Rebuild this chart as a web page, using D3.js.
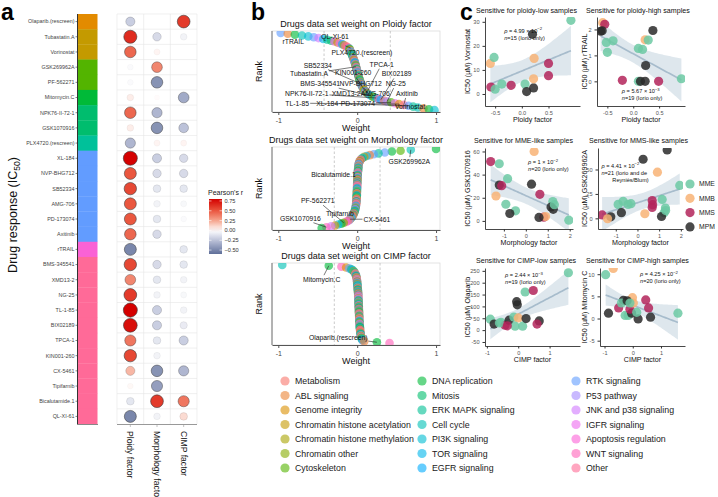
<!DOCTYPE html>
<html><head><meta charset="utf-8">
<script src="https://cdn.jsdelivr.net/npm/d3@7"></script>
<style>body{margin:0;background:#fff}svg{display:block}text{font-family:'Liberation Sans',Arial,Helvetica,sans-serif}</style>
</head><body><svg id="chart" width="718" height="497"></svg>
<script>
// ---------------- DATA ----------------
const pathways = ["Metabolism","ABL signaling","Genome integrity","Chromatin histone acetylation","Chromatin histone methylation","Chromatin other","Cytoskeleton","DNA replication","Mitosis","ERK MAPK signaling","Cell cycle","PI3K signaling","TOR signaling","EGFR signaling","RTK signaling","P53 pathway","JNK and p38 signaling","IGFR signaling","Apoptosis regulation","WNT signaling","Other"];

const drugs = ["Olaparib.(rescreen)","Tubastatin.A","Vorinostat","GSK269962A","PF-562271","Mitomycin.C","NPK76-II-72-1","GSK1070916","PLX4720.(rescreen)","XL-184","NVP-BHG712","SB52334","AMG-706","PD-173074","Axitinib","rTRAIL","BMS-345541","XMD13-2","NG-25","TL-1-85","BIX02189","TPCA-1","KIN001-260","CX-5461","Tipifarnib","Bicalutamide.1","QL-XI-61"];
const drugPathway = ["Genome integrity","Chromatin histone acetylation","Chromatin histone acetylation","Cytoskeleton","Cytoskeleton","DNA replication","Mitosis","Mitosis","ERK MAPK signaling","RTK signaling","RTK signaling","RTK signaling","RTK signaling","RTK signaling","RTK signaling","Apoptosis regulation","Other","Other","Other","Other","Other","Other","Other","Other","Other","Other","Other"];
const factors = ["Ploidy factor","Morphology factor","CIMP factor"];
const ploidyR = [-0.2,0.65,0.45,-0.02,-0.02,0.05,0.45,0.05,-0.3,0.8,0.5,0.55,0.5,0.5,0.45,-0.5,0.55,0.35,0.6,0.8,0.75,0.4,0.55,0.2,0.02,-0.1,-0.5];
const morphR  = [0,-0.15,0.03,0.35,-0.45,0.01,-0.3,-0.45,0.03,-0.2,-0.15,-0.1,-0.05,-0.1,-0.15,0,-0.15,-0.1,-0.05,-0.2,-0.2,-0.1,-0.05,-0.45,-0.4,0.6,-0.05];
const cimpR   = [0.6,-0.05,0,0,0,-0.35,0,-0.25,0.03,-0.15,-0.15,-0.1,-0.03,-0.02,0,-0.1,-0.1,-0.05,-0.03,-0.05,-0.08,-0.2,0,-0.3,0,0.4,0.1];
const legendTicks = [0.75,0.5,0.25,0,-0.25,-0.5];

// ranked weights (rank 1 at top), pathway index per point (base-36 digits)
const ploidyWeights = [-0.97,-0.88,-0.79,-0.7,-0.62,-0.55,-0.49,-0.43,
 -0.38,-0.33,-0.29,-0.25,-0.22,-0.19,-0.17,-0.15,-0.13,-0.115,
 -0.1,-0.095,-0.09,-0.085,-0.08,-0.075,-0.07,-0.066,-0.062,-0.058,-0.054,-0.05,
 -0.046,-0.042,-0.038,-0.034,-0.03,-0.027,-0.024,-0.021,-0.018,-0.015,-0.012,-0.009,
 -0.006,-0.003,0,0.003,0.006,0.009,0.012,0.015,0.018,0.021,0.024,0.027,
 0.03,0.034,0.038,0.042,0.046,0.05,0.055,0.06,0.065,0.07,0.076,0.082,
 0.09,0.1,0.11,0.12,0.135,0.15,0.17,0.19,0.21,0.24,0.27,0.3,
 0.34,0.38,0.43,0.48,0.53,0.59,0.65,0.71,0.77,0.84,0.91,0.98];
const ploidyCats = "e17abegc98i3hd4k0ja62fbk87e93ci51gadk480jb6f0e9h3c7i1a58e2d1fbk9g43ci71ae85bjd0f6h2ke9a17b";
const morphWeights = [1.0,0.68,0.55,0.44,0.35,0.27,0.21,0.16,
 0.12,0.09,0.07,0.055,0.045,0.037,0.031,0.026,0.022,0.019,
 0.017,0.016,0.015,0.014,0.013,0.012,0.011,0.01,0.009,0.008,0.007,0.006,
 0.005,0.005,0.004,0.004,0.003,0.003,0.002,0.002,0.001,0.001,0,0,
 0,-0.001,-0.001,-0.002,-0.002,-0.003,-0.003,-0.004,-0.004,-0.005,-0.005,-0.006,
 -0.006,-0.007,-0.007,-0.008,-0.009,-0.01,-0.011,-0.012,-0.013,-0.014,-0.016,-0.018,
 -0.02,-0.022,-0.025,-0.028,-0.032,-0.036,-0.04,-0.045,-0.05,-0.056,-0.063,-0.07,
 -0.08,-0.09,-0.1,-0.12,-0.14,-0.17,-0.2,-0.24,-0.28,-0.33,-0.39,-0.45];
const morphCats = "7a67e9e1c3b8k05h2df4i9a1c6e0jb82gd5k3ai7f1h0c9e4b6j2d8a5k1g7f3i0ce29hb6d4j81kae3f0i57c2gj7";
const cimpWeights = [-0.95,-0.36,-0.2,-0.14,-0.1,-0.075,-0.058,-0.046,
 -0.037,-0.03,-0.024,-0.019,-0.015,-0.012,-0.009,-0.007,-0.005,-0.003,
 -0.002,-0.001,0,0.001,0.002,0.003,0.004,0.005,0.006,0.007,0.008,0.009,
 0.01,0.011,0.012,0.013,0.013,0.014,0.014,0.015,0.015,0.016,0.016,0.017,
 0.017,0.018,0.018,0.019,0.019,0.02,0.02,0.021,0.021,0.022,0.022,0.023,
 0.023,0.024,0.024,0.025,0.025,0.026,0.026,0.027,0.027,0.028,0.028,0.029,
 0.029,0.03,0.031,0.032,0.033,0.034,0.035,0.036,0.037,0.038,0.039,0.04,
 0.042,0.044,0.046,0.048,0.05,0.053,0.057,0.062,0.07,0.09,0.25,0.41];
const cimpCats = "a7j2e9c4b5h1d8k3f0g6ia2c9e4j7b1d5k8h0f3gc6e2a9i4b7j1d58k0f6c3h2ga94ie1b7d5j0k3c8f2h6a9e17j";

// labels: [text, label weight, label rank, target rank]
const ploidyLabels = [["QL-XI-61",-0.28,5.6,11],["rTRAIL",-0.81,11.2,2],["PLX4720.(rescreen)",0.06,23.6,16],
 ["SB52334",-0.5,38.2,60],["TPCA-1",0.31,37.1,70],["Tubastatin.A",-0.61,48.3,40],["KIN001-260",-0.05,47.2,68],
 ["BIX02189",0.5,48.3,78],["BMS-345541",-0.47,59.5,74],["NVP-BHG712",0.045,59.5,72],["NG-25",0.49,59.5,80],
 ["NPK76-II-72-1",-0.64,70.8,76],["XMD13-2",-0.14,70.8,73],["AMG-706",0.23,70.8,79],["Axitinib",0.63,70.8,84],
 ["TL-1-85",-0.76,82,83],["XL-184",-0.38,82,85],["PD-173074",0.01,82,81],["Vorinostat",0.67,85.4,86]];
const morphLabels = [["GSK269962A",0.66,15.3,2],["Bicalutamide.1",-0.3,29.6,30],["PF-562271",-0.5,59.2,84],
 ["Tipifarnib",-0.22,73.4,82],["GSK1070916",-0.72,78.9,89],["CX-5461",0.25,80,80]];
const cimpLabels = [["Mitomycin.C",-0.45,17.8,2],["Olaparib.(rescreen)",-0.24,83.2,89]];

// scatter data: [factor value, IC50, subtype]
const vorinostatPts = [[-0.59,12.7,"MMB"],[-0.52,15.2,"MME"],[-0.58,2.9,"MMS"],[-0.5,2,"MME"],[-0.375,4.1,"MME"],[-0.2,3.6,"MMS"],[0.06,4.1,"MME"],[0.09,1,"MPM"],[0.22,2.5,"MPM"],[0.22,6.3,"MMB"],[0.23,14.8,"MMB"],[0.2,24.8,"MPM"],[0.5,12.7,"MMS"],[0.5,7.6,"MMS"],[0.92,30.6,"MME"]];
const rtrailPts = [[-0.59,2.26,"MMB"],[-0.55,2.2,"MMS"],[-0.63,1.93,"MPM"],[-0.6,1.95,"MPM"],[-0.52,1.5,"MME"],[-0.39,1.56,"MME"],[-0.5,1.12,"MME"],[-0.21,0.04,"MMS"],[0.1,1.27,"MME"],[0.18,1.23,"MME"],[0.23,1.6,"MMB"],[0.29,1.59,"MME"],[0.38,1.96,"MPM"],[0.24,0.61,"MPM"],[0.1,0,"MME"],[0.14,0,"MPM"],[0.23,0,"MPM"],[0.49,0,"MMS"],[0.93,0.1,"MME"]];
const gsk107Pts = [[-1.6,51.3,"MMS"],[-1.21,49.4,"MME"],[-0.83,36.5,"MME"],[-1.21,31,"MPM"],[-1.1,30.4,"MMS"],[-1.36,21.5,"MMB"],[-0.91,14.4,"MME"],[-0.47,8.7,"MME"],[-0.73,6.4,"MPM"],[0.26,31.7,"MPM"],[0.64,23,"MMS"],[0.38,60,"MMB"],[0.82,3.2,"MMS"],[0.9,3.8,"MMB"],[1.23,16.7,"MME"],[1.15,12,"MPM"],[1.25,10,"MPM"],[1.96,0.6,"MME"],[1.3,14,"MME"],[0.6,3,"MPM"]];
const gsk269Pts = [[1.37,70,"MPM"],[0.26,60.5,"MPM"],[0.92,47.3,"MMB"],[1.95,33.7,"MME"],[0.68,18.2,"MMS"],[0.68,11.2,"MMS"],[1.14,19.4,"MME"],[1.29,10.5,"MME"],[1.23,5.8,"MME"],[1.11,1.9,"MPM"],[0.34,4.7,"MMB"],[-0.89,14.3,"MME"],[-0.66,17.4,"MME"],[-0.43,14.3,"MME"],[-0.74,5.8,"MPM"],[-1.63,3.5,"MMS"],[-1.23,1.6,"MPM"],[-1.38,-0.4,"MMB"],[-0.3,15,"MME"],[0.7,14,"MMS"],[1.3,8,"MME"]];
const olaparibPts = [[-0.89,46,"MME"],[-0.77,25.6,"MPM"],[-0.55,33,"MME"],[-0.42,20.5,"MMS"],[-0.29,42,"MPM"],[-0.14,55,"MME"],[0,51.4,"MMB"],[-0.1,16.6,"MME"],[0.14,16.6,"MME"],[0.25,48.7,"MPM"],[0.67,38.6,"MPM"],[0.6,25.5,"MMS"],[-0.03,106.7,"MPM"],[0.22,160.8,"MME"],[0.48,167,"MMS"],[-0.05,120,"MPM"],[1.6,242,"MME"],[-0.6,30,"MME"],[-0.35,18,"MMS"]];
const mitomycinPts = [[-0.96,9.9,"MME"],[-0.69,11.3,"MMB"],[0.46,4.2,"MMS"],[-0.33,4.1,"MPM"],[-0.01,4.7,"MMB"],[-0.86,1.2,"MPM"],[-0.5,2.4,"MMS"],[-0.27,0.7,"MME"],[-0.16,0.7,"MME"],[-0.04,1.2,"MPM"],[-0.1,2.1,"MMS"],[-0.4,3.5,"MME"],[0.02,3.5,"MMB"],[0.19,-0.1,"MPM"],[0.14,1.4,"MME"],[0.56,2.4,"MMS"],[0.63,0.3,"MPM"],[1.6,1.2,"MME"],[-0.2,4,"MPM"],[-0.1,3.5,"MME"]];
const subtypes = ["MME","MMB","MMS","MPM"];

// ---------------- STYLE HELPERS ----------------
function hclHex(h, c, l) { // R-style polarLUV -> sRGB
  const WX=95.047, WY=100, WZ=108.883, hr=h*Math.PI/180;
  const U=c*Math.cos(hr), V=c*Math.sin(hr);
  const Y = WY*(l>7.999592 ? Math.pow((l+16)/116,3) : l/903.3);
  const t=WX+WY+WZ, x=WX/t, y=WY/t;
  const uN=2*x/(6*y-x+1.5), vN=4.5*y/(6*y-x+1.5);
  const u=U/(13*l)+uN, v=V/(13*l)+vN;
  const X=9*Y*u/(4*v), Z=-X/3-5*Y+3*Y/v;
  const lin=[(3.240479*X-1.53715*Y-0.498535*Z)/WY,(-0.969256*X+1.875992*Y+0.041556*Z)/WY,(0.055648*X-0.204043*Y+1.057311*Z)/WY];
  const g=lin.map(q=>{q = q<=0.0031308 ? 12.92*q : 1.055*Math.pow(q,1/2.4)-0.055; return Math.round(Math.max(0,Math.min(1,q))*255);});
  return d3.rgb(g[0],g[1],g[2]).formatHex();
}
const pathColor = {};
pathways.forEach((p,i)=>{ pathColor[p] = hclHex(15+360*i/pathways.length,100,65); });
const barColor = {"Genome integrity":"#E38B00","Chromatin histone acetylation":"#C49A00","Cytoskeleton":"#53B400","DNA replication":"#00BA38","Mitosis":"#00BD6E","ERK MAPK signaling":"#00C19A","RTK signaling":"#629CFF","Apoptosis regulation":"#FA62D5","Other":"#FF6A98"};
const subColor = {MME:"#6cc9a3",MMB:"#f8b375",MMS:"#b3245a",MPM:"#2a2a2a"};

const svg = d3.select("#chart");
function T(g,x,y,s,size,o={}) {
  const t=g.append("text").attr("x",x).attr("y",y).attr("font-size",size).attr("fill",o.fill||"#1a1a1a").text(s);
  if(o.anchor) t.attr("text-anchor",o.anchor);
  if(o.weight) t.attr("font-weight",o.weight);
  if(o.rot!=null) t.attr("transform",`rotate(${o.rot},${x},${y})`);
  return t;
}

// panel letters
T(svg,1,20,"a",23,{weight:"bold",fill:"#000"});
T(svg,251,20,"b",23,{weight:"bold",fill:"#000"});
T(svg,460,20,"c",23,{weight:"bold",fill:"#000"});

// ---------------- PANEL A ----------------
(function(){
  const g=svg.append("g");
  const top=14, bot=424;
  const ys=d3.scaleBand().domain(drugs).range([top,bot]);
  const xs=d3.scaleBand().domain(factors).range([117,197]);
  const col=d3.scaleLinear().domain([-0.6,-0.25,0,0.25,0.5,0.8]).range(["#5f6f99","#bcc2d9","#ffffff","#f6a58f","#ea573f","#d40000"]).clamp(true);
  const rad=v=>2.1+5.5*Math.sqrt(Math.abs(v));
  drugs.forEach((d)=>{ g.append("line").attr("x1",117).attr("x2",197).attr("y1",ys(d)).attr("y2",ys(d)).attr("stroke","#e6e6e6").attr("stroke-width",0.6); });
  [117,xs(factors[1]),xs(factors[2]),197].forEach(x=>g.append("line").attr("x1",x).attr("x2",x).attr("y1",top).attr("y2",bot).attr("stroke","#e6e6e6").attr("stroke-width",0.6));
  drugs.forEach((d,i)=>{ g.append("rect").attr("x",78).attr("y",ys(d)).attr("width",19.5).attr("height",ys.bandwidth()+0.3).attr("fill",barColor[drugPathway[i]]); });
  g.append("line").attr("x1",77.5).attr("x2",77.5).attr("y1",top).attr("y2",bot).attr("stroke","#333").attr("stroke-width",1);
  g.append("line").attr("x1",77).attr("x2",98).attr("y1",bot+0.5).attr("y2",bot+0.5).attr("stroke","#888").attr("stroke-width",1);
  g.append("line").attr("x1",117).attr("x2",197).attr("y1",bot+0.5).attr("y2",bot+0.5).attr("stroke","#999").attr("stroke-width",1);
  drugs.forEach((d)=>{
    const yc=ys(d)+ys.bandwidth()/2;
    g.append("line").attr("x1",75.5).attr("x2",77.5).attr("y1",yc).attr("y2",yc).attr("stroke","#333").attr("stroke-width",0.6);
    T(g,74.5,yc+1.9,d,5.4,{anchor:"end",fill:"#444"});
  });
  const series=[ploidyR,morphR,cimpR];
  series.forEach((arr,j)=>{
    const xc=xs(factors[j])+xs.bandwidth()/2;
    g.append("line").attr("x1",xc).attr("x2",xc).attr("y1",bot+0.5).attr("y2",bot+3).attr("stroke","#999").attr("stroke-width",0.6);
    arr.forEach((v,i)=>{
      g.append("circle").attr("cx",xc).attr("cy",ys(drugs[i])+ys.bandwidth()/2).attr("r",rad(v))
        .attr("fill",col(v)).attr("stroke","#3a3a3a").attr("stroke-width",0.6).attr("stroke-opacity",Math.min(1,Math.abs(v)*1.8));
    });
    T(g,xc-3,431,factors[j],8.6,{rot:90,fill:"#1a1a1a"});
  });
  const yt=g.append("text").attr("transform","translate(17,215) rotate(-90)").attr("text-anchor","middle").attr("font-size",12.5).attr("fill","#111");
  yt.append("tspan").text("Drug response (IC");
  yt.append("tspan").attr("font-size",8.5).attr("dy",3).text("50");
  yt.append("tspan").attr("dy",-3).text(")");
  // legend
  T(g,208,195,"Pearson's r",7,{fill:"#222"});
  const lg=svg.append("defs").append("linearGradient").attr("id","rg").attr("x1",0).attr("x2",0).attr("y1",0).attr("y2",1);
  d3.range(0,11).forEach(i=>{const v=0.8-1.4*i/10; lg.append("stop").attr("offset",i/10).attr("stop-color",col(v));});
  const ly=d3.scaleLinear().domain([-0.6,0.8]).range([254,199]);
  g.append("rect").attr("x",209).attr("y",199).attr("width",13).attr("height",55).attr("fill","url(#rg)");
  legendTicks.forEach(v=>{
    g.append("line").attr("x1",209).attr("x2",211.5).attr("y1",ly(v)).attr("y2",ly(v)).attr("stroke","#fff").attr("stroke-width",0.6);
    g.append("line").attr("x1",219.5).attr("x2",222).attr("y1",ly(v)).attr("y2",ly(v)).attr("stroke","#fff").attr("stroke-width",0.6);
    T(g,224.5,ly(v)+2,d3.format(".2f")(v),5.6,{fill:"#333"});
  });
})();

// ---------------- PANEL B ----------------
const bx=d3.scaleLinear().domain([-1.08,1.05]).range([272,440]);
const rankPlots=[
  {title:"Drugs data set weight on Ploidy factor",top:31,bottom:112,w:ploidyWeights,c:ploidyCats,thr:0.42,labels:ploidyLabels},
  {title:"Drugs data set weight on Morphology factor",top:147,bottom:230,w:morphWeights,c:morphCats,thr:0.29,labels:morphLabels},
  {title:"Drugs data set weight on CIMP factor",top:263,bottom:345,w:cimpWeights,c:cimpCats,thr:0.29,labels:cimpLabels}
];
rankPlots.forEach(p=>{
  const g=svg.append("g");
  const N=p.w.length;
  const y=d3.scaleLinear().domain([0,N+1]).range([p.top+1,p.bottom-1]);
  const cid="clip"+p.top;
  svg.append("defs").append("clipPath").attr("id",cid).append("rect").attr("x",272).attr("y",p.top).attr("width",168).attr("height",p.bottom-p.top);
  g.append("rect").attr("x",272).attr("y",p.top).attr("width",168).attr("height",p.bottom-p.top).attr("fill","none").attr("stroke","#dcdcdc").attr("stroke-width",0.8);
  [-p.thr,p.thr].forEach(t=>g.append("line").attr("x1",bx(t)).attr("x2",bx(t)).attr("y1",p.top).attr("y2",p.bottom).attr("stroke","#bdbdbd").attr("stroke-width",0.8).attr("stroke-dasharray","2.5,2"));
  const pg=g.append("g").attr("clip-path",`url(#${cid})`);
  p.w.forEach((w,i)=>{
    const ci=parseInt(p.c[i],36);
    pg.append("circle").attr("cx",bx(w)).attr("cy",y(i+1)).attr("r",4.3).attr("fill",pathColor[pathways[ci]]).attr("fill-opacity",0.62);
  });
  p.labels.forEach(L=>{
    const lx=bx(L[1]), lyy=y(L[2]);
    const t=T(g,lx,lyy+2.4,L[0],6.8,{anchor:"middle",fill:"#111"});
    const wdt=t.node().getComputedTextLength()/2+1, hgt=4.5;
    const tx=bx(p.w[L[3]-1]), ty=y(L[3]);
    const dx=tx-lx, dy=ty-lyy;
    let s=Math.min(dx!==0?wdt/Math.abs(dx):Infinity, dy!==0?hgt/Math.abs(dy):Infinity);
    if(s<1){
      const sx=lx+dx*s, sy=lyy+dy*s;
      if(Math.hypot(tx-sx,ty-sy)>5) g.insert("line","text").attr("x1",sx).attr("y1",sy).attr("x2",tx).attr("y2",ty).attr("stroke","#222").attr("stroke-width",0.6);
    }
  });
  const ax=g.append("g").attr("transform",`translate(0,${p.bottom})`).call(d3.axisBottom(bx).tickValues([-1,0,1]).tickFormat(v=>String(v)).tickSize(3).tickSizeOuter(0));
  ax.select(".domain").attr("stroke","#555");
  ax.selectAll(".tick line").attr("stroke","#555");
  ax.selectAll(".tick text").attr("font-size",7).attr("fill","#444").attr("font-family","'Liberation Sans',Arial,sans-serif");
  g.append("line").attr("x1",272).attr("x2",272).attr("y1",p.top).attr("y2",p.bottom).attr("stroke","#555").attr("stroke-width",0.8);
  T(g,356,p.top-4,p.title,9,{anchor:"middle",fill:"#111"});
  T(g,356,p.bottom+19,"Weight",9,{anchor:"middle",fill:"#111"});
  T(g,262,(p.top+p.bottom)/2,"Rank",9,{anchor:"middle",rot:-90,fill:"#111"});
});
(function(){
  const g=svg.append("g");
  const cols=[285,422,576];
  pathways.forEach((p,i)=>{
    const cx=cols[Math.floor(i/7)], cy=381+(i%7)*14.5;
    g.append("circle").attr("cx",cx).attr("cy",cy).attr("r",4.6).attr("fill",pathColor[p]).attr("fill-opacity",0.6);
    T(g,cx+10,cy+3.2,p,8.8,{fill:"#1a1a1a"});
  });
})();

// ---------------- PANEL C ----------------
const scatters=[
  {title:"Sensitive for ploidy-low samples",tx:476,ty:13,box:[485,580,17,106],xd:[-0.69,1.09],yd:[-5,32],xt:[-0.5,0,0.5],xf:".1f",yt:[0,10,20,30],pts:vorinostatPts,xl:"Ploidy factor",yl:"IC50 (µM) Vorinostat",ylx:470,pt:[-0.33,25.5],rho:["4.99","−2"],nl:["n=15 (Iorio only)"]},
  {title:"Sensitive for ploidy-high samples",tx:586,ty:13,box:[597,685,17,106],xd:[-0.7,1.0],yd:[-0.95,2.48],xt:[-0.5,0,0.5],xf:".1f",yt:[0,1,2],pts:rtrailPts,xl:"Ploidy factor",yl:"IC50 (µM) rTRAIL",ylx:587,pt:[-0.22,-0.45],rho:["5.67","−3"],nl:["n=19 (Iorio only)"]},
  {title:"Sensitive for MME-like samples",tx:474,ty:143,box:[485,573,148,229],xd:[-1.86,2.15],yd:[-7,63],xt:[-1,0,1,2],xf:"d",yt:[0,20,40,60],pts:gsk107Pts,xl:"Morphology factor",yl:"IC50 (µM) GSK1070916",ylx:470,pt:[0.1,49],rho:["1","−2"],nl:["n=20 (Iorio only)"]},
  {title:"Sensitive for MMS-like samples",tx:589,ty:143,box:[598,683,148,229],xd:[-1.82,2.1],yd:[-10.9,72],xt:[-1,0,1,2],xf:"d",yt:[0,25,50],pts:gsk269Pts,xl:"Morphology factor",yl:"IC50 (µM) GSK269962A",ylx:587,pt:[-1.66,52],rho:["4.41","−2"],nl:["n=21 (Iorio and de","       Reyniès/Blum)"]},
  {title:"Sensitive for CIMP-low samples",tx:476,ty:263,box:[485,580,268,346],xd:[-1.06,1.97],yd:[-67,262],xt:[-1,0,1],xf:"d",yt:[-50,0,50,100,150,200,250],pts:olaparibPts,xl:"CIMP factor",yl:"IC50 (µM) Olaparib",ylx:470,pt:[-0.42,222],rho:["2.44","−3"],nl:["n=19 (Iorio only)"]},
  {title:"Sensitive for CIMP-high samples",tx:586,ty:263,box:[600,685,268,346],xd:[-1.16,1.85],yd:[-6.2,11.4],xt:[-1,0,1],xf:"d",yt:[-5,0,5,10],pts:mitomycinPts,xl:"CIMP factor",yl:"IC50 (µM) Mitomycin C",ylx:587,pt:[0.26,9.5],rho:["4.25","−2"],nl:["n=20 (Iorio only)"]}
];
scatters.forEach((c,k)=>{
  const g=svg.append("g");
  const [L,R,Tp,B]=c.box;
  const x=d3.scaleLinear().domain(c.xd).range([L,R]);
  const y=d3.scaleLinear().domain(c.yd).range([B,Tp]);
  const cid="sc"+k;
  svg.append("defs").append("clipPath").attr("id",cid).append("rect").attr("x",L).attr("y",Tp).attr("width",R-L).attr("height",B-Tp);
  const P=c.pts, n=P.length, mx=d3.mean(P,d=>d[0]), my=d3.mean(P,d=>d[1]);
  const sxx=d3.sum(P,d=>(d[0]-mx)**2), sxy=d3.sum(P,d=>(d[0]-mx)*(d[1]-my));
  const b=sxy/sxx, a=my-b*mx;
  const s=Math.sqrt(d3.sum(P,d=>(d[1]-a-b*d[0])**2)/(n-2));
  const df=n-2, tq=1.96+2.4/df+3/(df*df);
  const [x0,x1]=d3.extent(P,d=>d[0]);
  const grid=d3.range(0,61).map(i=>x0+(x1-x0)*i/60);
  const band=grid.map(xv=>{const f=a+b*xv,se=s*Math.sqrt(1/n+(xv-mx)**2/sxx);return [xv,f-tq*se,f+tq*se,f];});
  const cg=g.append("g").attr("clip-path",`url(#${cid})`);
  cg.append("path").attr("d",d3.area().x(d=>x(d[0])).y0(d=>y(d[1])).y1(d=>y(d[2]))(band)).attr("fill","#c3d3df").attr("fill-opacity",0.55);
  cg.append("path").attr("d",d3.line().x(d=>x(d[0])).y(d=>y(d[3]))(band)).attr("fill","none").attr("stroke","#a7bccc").attr("stroke-width",1.7);
  P.forEach(d=>cg.append("circle").attr("cx",x(d[0])).attr("cy",y(d[1])).attr("r",4.6).attr("fill",subColor[d[2]]).attr("fill-opacity",0.85));
  const fx=d3.format(c.xf);
  const ax=g.append("g").attr("transform",`translate(0,${B})`).call(d3.axisBottom(x).tickValues(c.xt).tickFormat(v=>fx(v).replace("−","-")).tickSize(2.5).tickSizeOuter(0));
  const ay=g.append("g").attr("transform",`translate(${L},0)`).call(d3.axisLeft(y).tickValues(c.yt).tickFormat(v=>String(v)).tickSize(2.5).tickSizeOuter(0));
  [ax,ay].forEach(A=>{A.select(".domain").attr("stroke","#333").attr("stroke-width",0.9);A.selectAll(".tick line").attr("stroke","#333");A.selectAll(".tick text").attr("font-size",5.6).attr("fill","#555").attr("font-family","'Liberation Sans',Arial,sans-serif");});
  ax.selectAll(".tick text").attr("dy","0.6em");
  T(g,c.tx,c.ty,c.title,7.1,{fill:"#111"});
  T(g,(L+R)/2,B+16,c.xl,7.1,{anchor:"middle",fill:"#111"});
  T(g,c.ylx,(Tp+B)/2,c.yl,7.1,{anchor:"middle",rot:-90,fill:"#111"});
  const px=x(c.pt[0]), py=y(c.pt[1]);
  const t1=g.append("text").attr("x",px).attr("y",py).attr("font-size",5.6).attr("fill","#111");
  t1.append("tspan").attr("font-style","italic").text("ρ");
  t1.append("tspan").text(` = ${c.rho[0]} × 10`);
  t1.append("tspan").attr("font-size",4.2).attr("dy",-2.4).text(c.rho[1]);
  c.nl.forEach((ln,i)=>{
    const t2=g.append("text").attr("x",px).attr("y",py+7*(i+1)).attr("font-size",5.6).attr("fill","#111").attr("xml:space","preserve");
    if(i===0){ t2.append("tspan").attr("font-style","italic").text("n"); t2.append("tspan").text(ln.slice(1)); }
    else t2.text(ln);
  });
});
(function(){
  const g=svg.append("g");
  subtypes.forEach((s,i)=>{
    const cy=184+i*14.3;
    g.append("circle").attr("cx",690).attr("cy",cy).attr("r",4.6).attr("fill",subColor[s]).attr("fill-opacity",0.85);
    T(g,699,cy+2.4,s,6.8,{fill:"#222"});
  });
})();
</script>
</body></html>
